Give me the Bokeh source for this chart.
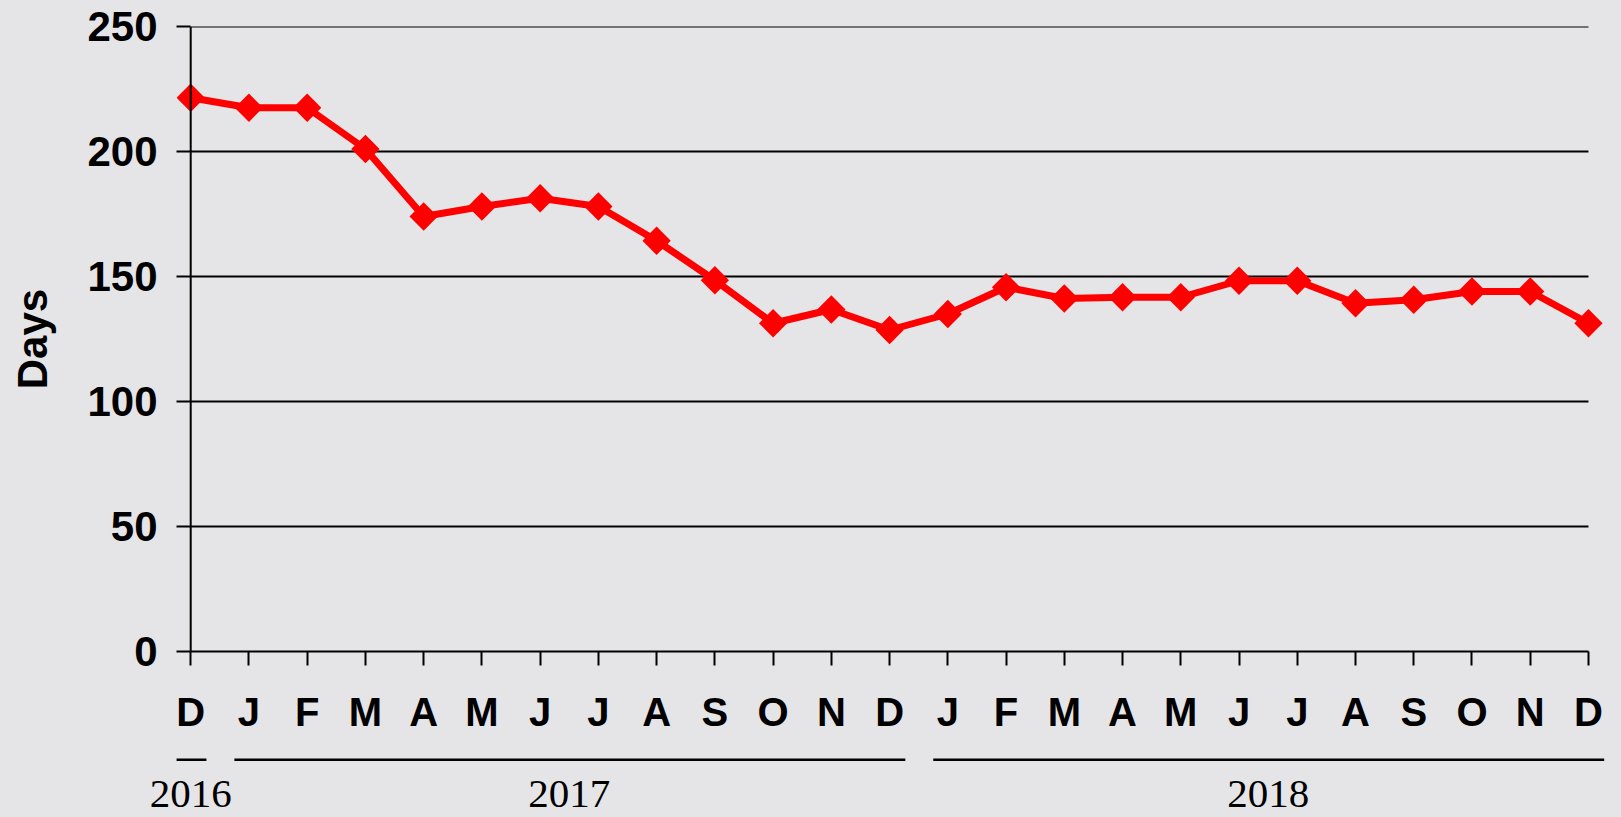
import numpy as np
from bokeh.plotting import figure
from bokeh.models import Range1d, FixedTicker, ColumnDataSource, Span
from bokeh.layouts import column
from bokeh.embed import file_html
from bokeh.resources import INLINE

# ---- data ----
months = ["D", "J", "F", "M", "A", "M", "J", "J", "A", "S", "O", "N", "D",
          "J", "F", "M", "A", "M", "J", "J", "A", "S", "O", "N", "D"]
years = [2016] + [2017] * 12 + [2018] * 12
days = [221.5, 217.5, 217.5, 201.0, 174.0, 178.0, 181.3, 178.0, 164.3, 148.5,
        131.3, 136.8, 128.6, 135.0, 145.7, 141.2, 141.7, 141.7, 148.3, 148.3,
        139.3, 140.7, 144.0, 144.0, 131.3]
y_ticks = [0, 50, 100, 150, 200, 250]
y_label = "Days"

# ---- style / layout ----
BG = "#e5e5e7"
RED = "#ff0000"
SANS = "Liberation Sans"
SERIF = "Liberation Serif"
W = 1620
X0_PX = 190.2      # pixel position of the first month
UNIT = 58.24       # pixels per month
LEFT = 176         # frame left (px)
RIGHT_B = 14       # right border (px)
H_A = 741
H_B = 76
BOTTOM_B = 37      # bottom border of the year strip
FRAME_B = H_B - BOTTOM_B

n = len(days)
xs = list(range(n))

def px_to_x(px):
    return (px - X0_PX) / UNIT

xr = Range1d(px_to_x(LEFT), px_to_x(W - RIGHT_B))

p = figure(width=W, height=H_A, x_range=xr, y_range=Range1d(0, 250),
           output_backend="svg", toolbar_location=None,
           min_border_left=LEFT, min_border_right=RIGHT_B, min_border_top=26,
           min_border_bottom=90, background_fill_color=BG, border_fill_color=BG,
           outline_line_color=None)
p.xgrid.visible = False
p.ygrid.visible = False

# y axis (labels outside, ticks reaching the x = 0 line)
ya = p.yaxis[0]
ya.ticker = FixedTicker(ticks=y_ticks)
ya.axis_line_color = None
ya.major_tick_in = 14
ya.major_tick_out = 0
ya.minor_tick_in = 0
ya.minor_tick_out = 0
ya.major_tick_line_width = 2
ya.major_label_standoff = 19
ya.major_label_text_font = SANS
ya.major_label_text_font_style = "bold"
ya.major_label_text_font_size = "42px"
ya.major_label_text_color = "black"
ya.axis_label = y_label
ya.axis_label_standoff = 28
ya.axis_label_text_font = SANS
ya.axis_label_text_font_style = "bold"
ya.axis_label_text_font_size = "42px"
ya.axis_label_text_color = "black"

# vertical axis line at the first month
p.add_layout(Span(location=xs[0], dimension="height", line_color="black",
                  line_width=2))

# x axis
xa = p.xaxis[0]
xa.bounds = (xs[0], xs[-1])
xa.ticker = FixedTicker(ticks=xs)
xa.major_label_overrides = {i: m for i, m in enumerate(months)}
xa.major_tick_in = 0
xa.major_tick_out = 14
xa.minor_tick_in = 0
xa.minor_tick_out = 0
xa.axis_line_width = 2
xa.major_tick_line_width = 2
xa.major_label_standoff = 24
xa.major_label_text_font = SANS
xa.major_label_text_font_style = "bold"
xa.major_label_text_font_size = "40px"
xa.major_label_text_color = "black"

# horizontal grid lines from the first to the last month
gy = y_ticks[1:]
p.segment(x0=[xs[0]] * len(gy), x1=[xs[-1]] * len(gy), y0=gy, y1=gy,
          line_color="black", line_width=2)

src = ColumnDataSource(dict(x=xs, y=days))
p.line("x", "y", source=src, line_color=RED, line_width=7)
p.scatter("x", "y", source=src, marker="square", size=20, angle=np.pi / 4,
          fill_color=RED, line_color=None)

# ---- year strip: bracket lines + year labels on an axis ----
yrs = sorted(set(years))
firsts = [years.index(y) for y in yrs]
lasts = [len(years) - 1 - years[::-1].index(y) for y in yrs]
centers = [(f + l) / 2 for f, l in zip(firsts, lasts)]

pb = figure(width=W, height=H_B, x_range=xr, y_range=Range1d(FRAME_B, 0),
            output_backend="svg", toolbar_location=None,
            x_axis_location="below", y_axis_location=None,
            min_border_left=LEFT, min_border_right=RIGHT_B, min_border_top=0,
            min_border_bottom=BOTTOM_B, background_fill_color=BG,
            border_fill_color=BG, outline_line_color=None)
pb.grid.visible = False
xb = pb.xaxis[0]
xb.ticker = FixedTicker(ticks=centers)
xb.major_label_overrides = {float(c): str(y) for c, y in zip(centers, yrs)}
xb.axis_line_color = None
xb.major_tick_in = 0
xb.major_tick_out = 0
xb.minor_tick_in = 0
xb.minor_tick_out = 0
xb.major_label_standoff = 0
xb.major_label_text_font = SERIF
xb.major_label_text_font_size = "41px"
xb.major_label_text_color = "black"

pb.segment(x0=[f - 0.25 for f in firsts], x1=[l + 0.27 for l in lasts],
           y0=[18.3] * len(yrs), y1=[18.3] * len(yrs),
           line_color="black", line_width=2.5)

layout = column(p, pb, spacing=0)
html = file_html(layout, INLINE)
html = html.replace("</head>", "<style>body{background:%s;}</style></head>" % BG, 1)
open("out.html", "w").write(html)
